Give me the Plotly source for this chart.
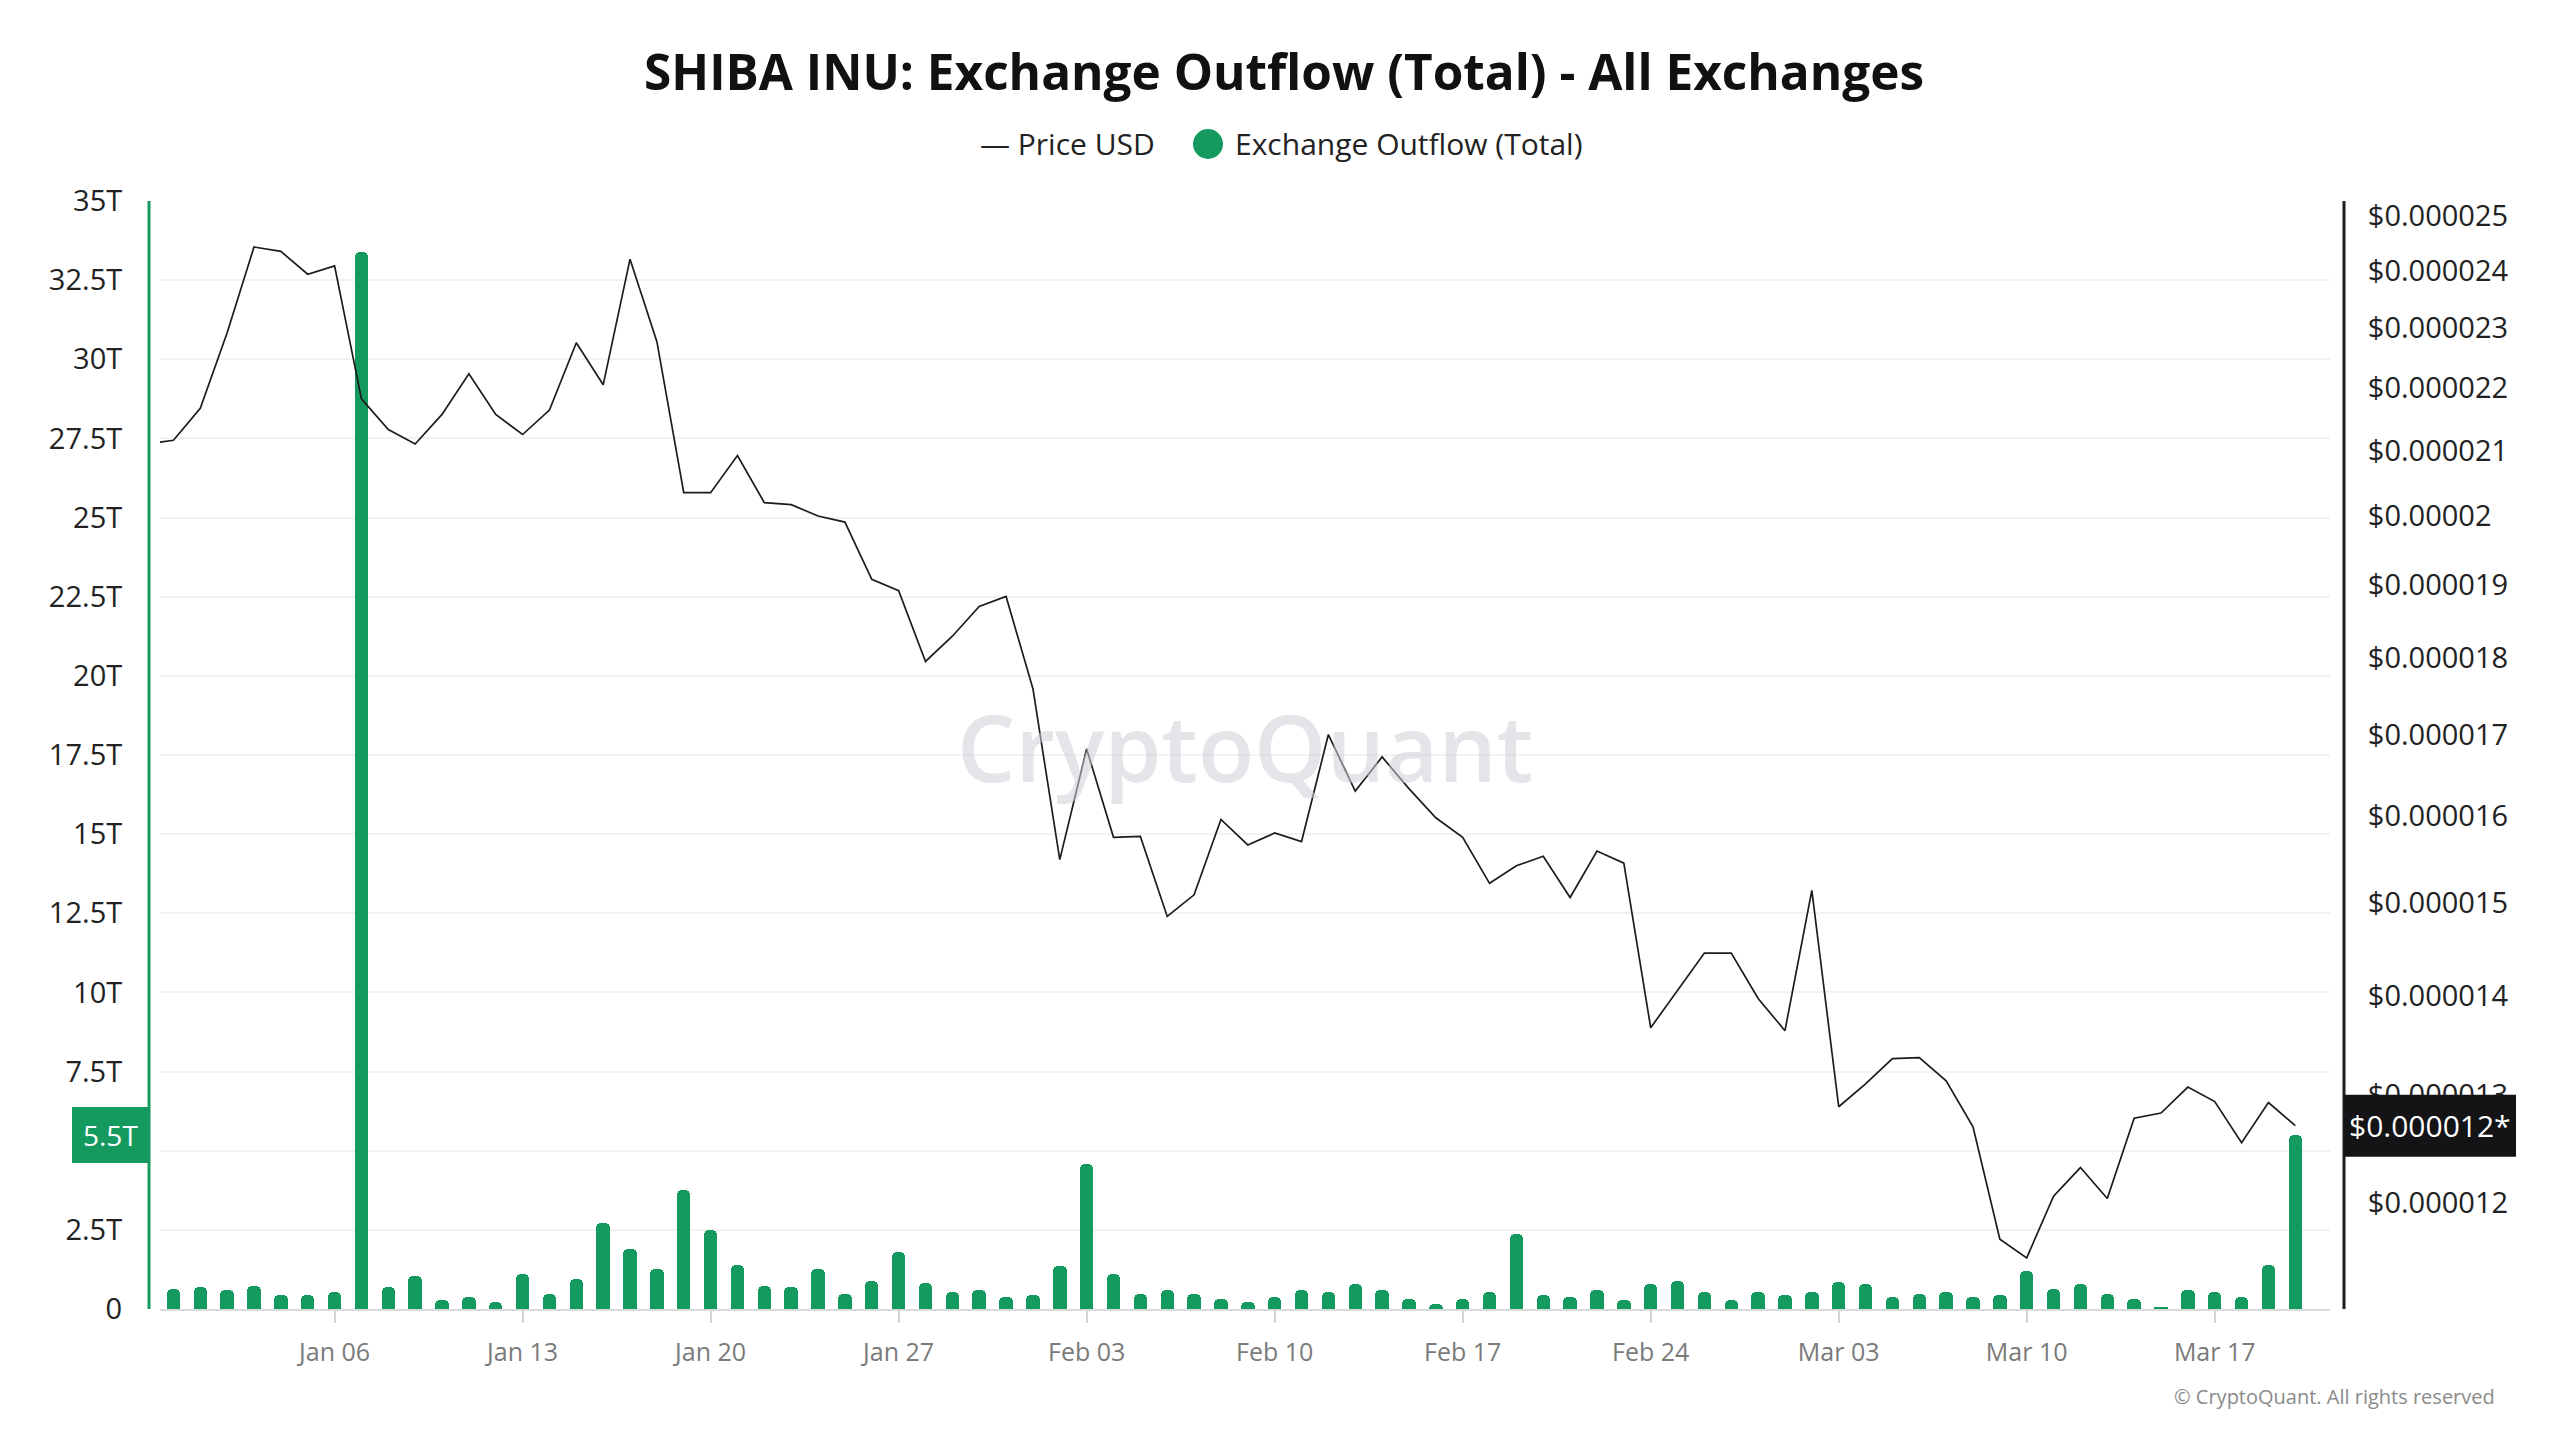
import math
import pandas as pd
import plotly.graph_objects as go

# ---------------- data ----------------
TITLE = "SHIBA INU: Exchange Outflow (Total) - All Exchanges"
LEGEND_PRICE = "Price USD"
LEGEND_OUTFLOW = "Exchange Outflow (Total)"
WATERMARK = "CryptoQuant"
COPYRIGHT = "© CryptoQuant. All rights reserved"

outflow_dates = pd.date_range("2024-12-31", "2025-03-20", freq="D")
# Exchange outflow in trillions of SHIB
outflow_t = [
    0.63,                                                    # Dec 31
    0.68, 0.59, 0.74, 0.43, 0.43, 0.53, 33.4, 0.68, 1.04, 0.28,   # Jan 1-10
    0.37, 0.22, 1.09, 0.48, 0.94, 2.72, 1.91, 1.25, 3.75, 2.51,   # Jan 11-20
    1.40, 0.74, 0.68, 1.25, 0.48, 0.89, 1.81, 0.83, 0.53, 0.59,   # Jan 21-30
    0.37,                                                    # Jan 31
    0.43, 1.35, 4.57, 1.09, 0.48, 0.59, 0.48, 0.33, 0.22, 0.37,   # Feb 1-10
    0.59, 0.53, 0.79, 0.59, 0.33, 0.17, 0.33, 0.53, 2.38, 0.43,   # Feb 11-20
    0.37, 0.59, 0.28, 0.79, 0.89, 0.53, 0.28, 0.53,               # Feb 21-28
    0.43, 0.53, 0.84, 0.79, 0.37, 0.48, 0.53, 0.37, 0.43, 1.20,   # Mar 1-10
    0.63, 0.79, 0.48, 0.33, 0.06, 0.59, 0.53, 0.37, 1.40, 5.5,    # Mar 11-20
]

price_dates = pd.date_range("2024-12-30", "2025-03-20", freq="D")
# SHIB price in micro-dollars (x 1e-6 USD)
price_e6 = [
    21.10, 21.16,                                                      # Dec 30-31
    21.67, 22.92, 24.43, 24.35, 23.94, 24.09, 21.82, 21.33, 21.10, 21.57,  # Jan 1-10
    22.23, 21.57, 21.25, 21.64, 22.75, 22.05, 24.21, 22.77, 20.35, 20.35,  # Jan 11-20
    20.92, 20.20, 20.17, 20.00, 19.91, 19.08, 18.92, 17.95, 18.29, 18.70,  # Jan 21-30
    18.84,                                                             # Jan 31
    17.59, 15.49, 16.82, 15.75, 15.76, 14.85, 15.09, 15.96, 15.66, 15.80,  # Feb 1-10
    15.70, 17.00, 16.30, 16.72, 16.33, 15.98, 15.75, 15.22, 15.42, 15.53,  # Feb 11-20
    15.06, 15.59, 15.45, 13.67, 14.06, 14.45, 14.45, 13.97,                # Feb 21-28
    13.64, 15.14, 12.89, 13.11, 13.36, 13.37, 13.14, 12.70, 11.68, 11.52,  # Mar 1-10
    12.06, 12.32, 12.04, 12.78, 12.83, 13.08, 12.94, 12.55, 12.93, 12.71,  # Mar 11-20
]

left_tick_vals_t = [0, 2.5, 5, 7.5, 10, 12.5, 15, 17.5, 20, 22.5, 25, 27.5, 30, 32.5, 35]
left_tick_text = ["0", "2.5T", "5T", "7.5T", "10T", "12.5T", "15T", "17.5T", "20T",
                  "22.5T", "25T", "27.5T", "30T", "32.5T", "35T"]
right_tick_vals_e6 = [12, 13, 14, 15, 16, 17, 18, 19, 20, 21, 22, 23, 24, 25]
right_tick_text = ["$0.000012", "$0.000013", "$0.000014", "$0.000015", "$0.000016",
                   "$0.000017", "$0.000018", "$0.000019", "$0.00002", "$0.000021",
                   "$0.000022", "$0.000023", "$0.000024", "$0.000025"]
left_badge_text = "5.5T"
right_badge_text = "$0.000012*"

x_range = ["2024-12-30 12:00", "2025-03-21 07:00"]
left_range_t = [0, 35]
right_range_e6 = [11.09, 25.28]

# ---------------- styling / layout ----------------
# The page body adds an 8px margin; the figure is sized/offset to compensate.
OFF = 8
W, H = 2560 - OFF, 1440 - OFF
PLOT_L, PLOT_R, PLOT_T, PLOT_B = 160, 2330, 201, 1309   # target page pixels
L, T = PLOT_L - OFF, PLOT_T - OFF
R, B = W - (PLOT_R - OFF), H - (PLOT_B - OFF)
PW, PH = W - L - R, H - T - B
GREEN = "#14995e"
DARK = "#1c1c1c"
FONT = "Open Sans"
T_ = 1e12


def px_x(X):
    return (X - PLOT_L) / PW


def px_y(Y):
    return (PLOT_B - Y) / PH


outflow = [v * T_ for v in outflow_t]
price = [v * 1e-6 for v in price_e6]
log_lo = math.log10(right_range_e6[0] * 1e-6)
log_hi = math.log10(right_range_e6[1] * 1e-6)

fig = go.Figure()

fig.add_trace(go.Bar(
    x=outflow_dates, y=outflow, name=LEGEND_OUTFLOW,
    marker=dict(color=GREEN, cornerradius=5, line=dict(width=0)),
    width=0.5 * 86400000, yaxis="y", showlegend=False,
))
fig.add_trace(go.Scatter(
    x=price_dates, y=price, name=LEGEND_PRICE, mode="lines",
    line=dict(color=DARK, width=1.7), yaxis="y2", showlegend=False,
))

fig.update_layout(
    width=W, height=H,
    margin=dict(l=L, r=R, t=T, b=B),
    paper_bgcolor="white", plot_bgcolor="white",
    font=dict(family=FONT, color="#222222"),
    showlegend=False,
    bargap=0,
    title=dict(text=TITLE, x=0.5, xanchor="center", y=1 - (73 - OFF) / H, yanchor="middle",
               font=dict(family=FONT, size=49.5, color="#111111", weight="bold")),
    xaxis=dict(
        type="date", range=x_range,
        tick0="2025-01-06", dtick=7 * 86400000, tickformat="%b %d",
        ticks="outside", ticklen=12, tickwidth=2, tickcolor="#d4d4d4",
        ticklabelstandoff=8,
        tickfont=dict(size=25, color="#7a7a7a"),
        showline=True, linecolor="#dadada", linewidth=2,
        showgrid=False, zeroline=False,
    ),
    yaxis=dict(
        range=[left_range_t[0] * T_, left_range_t[1] * T_],
        tickvals=[v * T_ for v in left_tick_vals_t], ticktext=left_tick_text,
        ticks="outside", ticklen=31, tickcolor="rgba(0,0,0,0)",
        tickfont=dict(size=29, color="#222222"),
        showgrid=True, gridcolor="#f2f2f2", gridwidth=2,
        zeroline=False, showline=False,
    ),
    yaxis2=dict(
        type="log", overlaying="y", side="right",
        range=[log_lo, log_hi],
        tickvals=[v * 1e-6 for v in right_tick_vals_e6], ticktext=right_tick_text,
        ticks="outside", ticklen=31, tickcolor="rgba(0,0,0,0)",
        tickfont=dict(size=29, color="#222222"),
        showgrid=False, zeroline=False, showline=False,
    ),
)

shapes = []
annotations = []

# axis lines
shapes.append(dict(type="line", xref="paper", yref="paper",
                   x0=px_x(149), x1=px_x(149), y0=0, y1=1,
                   line=dict(color=GREEN, width=3)))
shapes.append(dict(type="line", xref="paper", yref="paper",
                   x0=px_x(2344), x1=px_x(2344), y0=0, y1=1,
                   line=dict(color=DARK, width=3)))

# last-value badges
last_out = outflow[-1]
shapes.append(dict(type="rect", xref="paper", yref="y",
                   x0=px_x(72), x1=px_x(148),
                   ysizemode="pixel", yanchor=last_out, y0=-28, y1=28,
                   fillcolor=GREEN, line=dict(width=0)))
annotations.append(dict(text=left_badge_text, xref="paper", yref="y",
                        x=px_x(110), y=last_out, showarrow=False,
                        xanchor="center", yanchor="middle",
                        font=dict(size=28, color="white", family=FONT)))

last_price = price[-1]
half_log = 31 / PH * (log_hi - log_lo)          # 31px half-height in log units
shapes.append(dict(type="rect", xref="paper", yref="y2",
                   x0=px_x(2344), x1=px_x(2516),
                   y0=last_price * 10 ** (-half_log), y1=last_price * 10 ** half_log,
                   fillcolor="#141416", line=dict(width=0)))
annotations.append(dict(text=right_badge_text, xref="paper", yref="y2",
                        x=px_x(2430), y=math.log10(last_price), showarrow=False,
                        xanchor="center", yanchor="middle",
                        font=dict(size=30, color="white", family=FONT)))

# legend (drawn as text)
annotations.append(dict(text="— " + LEGEND_PRICE, xref="paper", yref="paper",
                        x=px_x(978), y=px_y(144), showarrow=False,
                        xanchor="left", yanchor="middle",
                        font=dict(size=30, color="#222222", family=FONT)))
shapes.append(dict(type="circle", xref="paper", yref="paper",
                   xsizemode="pixel", ysizemode="pixel",
                   xanchor=px_x(1208), yanchor=px_y(144),
                   x0=-15, x1=15, y0=-15, y1=15,
                   fillcolor=GREEN, line=dict(width=0)))
annotations.append(dict(text=LEGEND_OUTFLOW, xref="paper", yref="paper",
                        x=px_x(1233), y=px_y(144), showarrow=False,
                        xanchor="left", yanchor="middle",
                        font=dict(size=30, color="#222222", family=FONT)))

# watermark
annotations.append(dict(text=WATERMARK, xref="paper", yref="paper",
                        x=px_x(1245), y=px_y(746), showarrow=False,
                        xanchor="center", yanchor="middle",
                        font=dict(size=92, color="rgba(205,205,215,0.55)", family=FONT,
                                  weight=600)))

# copyright
annotations.append(dict(text=COPYRIGHT, xref="paper", yref="paper",
                        x=px_x(2497), y=px_y(1396), showarrow=False,
                        xanchor="right", yanchor="middle",
                        font=dict(size=20, color="#8a8a8a", family=FONT)))

fig.update_layout(shapes=shapes, annotations=annotations)

fig.write_html("out.html")
